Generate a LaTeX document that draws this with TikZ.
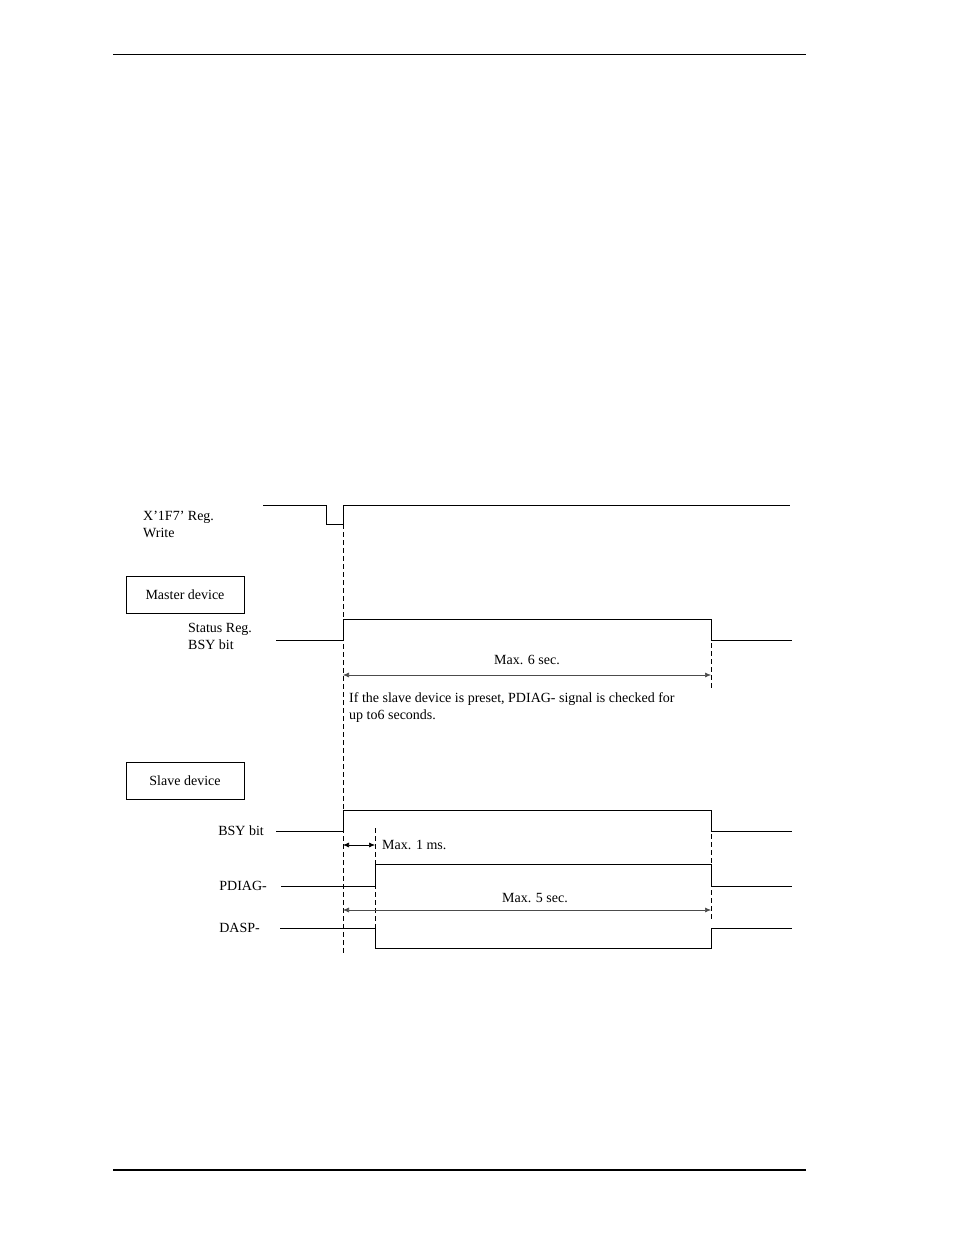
\documentclass[tikz,border=0pt]{standalone}
\usepackage{fontspec}
\setmainfont{Liberation Serif}
\usetikzlibrary{arrows.meta}
\begin{document}
\begin{tikzpicture}[x=1pt,y=-1pt,
  sig/.style={line width=0.9pt},
  dsh/.style={dashed,line width=0.8pt,dash pattern=on 5pt off 3pt},
  dim/.style={{Latex[length=6pt,width=5pt]}-{Latex[length=6pt,width=5pt]},line width=0.6pt,gray!60!black},
  lbl/.style={font=\fontsize{14}{17}\selectfont,inner sep=0pt},
  boxn/.style={draw,line width=0.8pt,minimum width=118pt,minimum height=37pt,font=\fontsize{14}{17}\selectfont}]
\useasboundingbox (0,0) rectangle (954,1235);
\draw[line width=0.8pt] (113,54) coordinate(t1) -- (806,54) coordinate(t2);
\draw[line width=1.6pt] (113,1170) coordinate(b1) -- (806,1170) coordinate(b2);
% X'1F7'
\draw[sig] (263,505) -- (326,505) -- (326,524) -- (343,524) -- (343,505) -- (790,505);
\node[lbl,anchor=north west,align=left] (xw) at (143,511) {X'1F7' Reg.\\Write};
\draw[dsh] (343,524) coordinate(d1) -- (343,953) coordinate(d2);
% master
\node[boxn] (mb) at (185,594.5) {Master device};
\node[lbl,anchor=north west,align=left] (sr) at (188,623) {Status Reg.\\BSY bit};
\draw[sig] (276,640) -- (343,640) -- (343,619) -- (711,619) -- (711,640) -- (792,640);
\draw[dsh] (711,619) coordinate(d3) -- (711,690) coordinate(d4);
\coordinate (a1) at (343,675); \coordinate (a2) at (711,675);
\draw[dim] (a1) -- (a2);
\node[lbl] (m6) at (527,660) {Max. 6 sec.};
\node[lbl,anchor=north west,align=left] (nt) at (349,692) {If the slave device is preset, PDIAG- signal is checked for\\up to6 seconds.};
% slave
\node[boxn] (sb) at (185,781) {Slave device};
\node[lbl,anchor=east] (bb) at (264,831) {BSY bit};
\draw[sig] (276,831) -- (343,831) -- (343,810) -- (711,810) -- (711,831) -- (792,831);
\draw[dsh] (711,810) coordinate(d5) -- (711,920) coordinate(d6);
\draw[dsh] (375,828) coordinate(d7) -- (375,948) coordinate(d8);
\coordinate (b1a) at (343,845); \coordinate (b1b) at (375,845);
\draw[dim,black] (b1a) -- (b1b);
\node[lbl,anchor=west] (m1) at (382,845) {Max. 1 ms.};
\node[lbl,anchor=east] (pd) at (267,886) {PDIAG-};
\draw[sig] (281,886) -- (375,886) -- (375,864) -- (711,864) -- (711,886) -- (792,886);
\coordinate (c1) at (343,910); \coordinate (c2) at (711,910);
\draw[dim] (c1) -- (c2);
\node[lbl] (m5) at (535,898) {Max. 5 sec.};
\node[lbl,anchor=east] (da) at (260,928) {DASP-};
\draw[sig] (280,928) -- (375,928) -- (375,948) -- (711,948) -- (711,928) -- (792,928);
\end{tikzpicture}
\end{document}
